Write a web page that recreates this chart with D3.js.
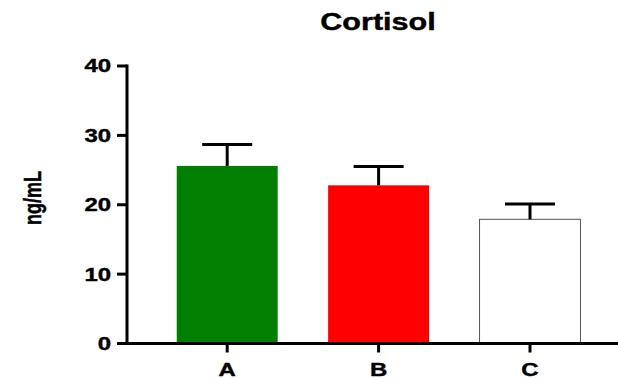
<!DOCTYPE html>
<html>
<head>
<meta charset="utf-8">
<script src="https://cdn.jsdelivr.net/npm/d3@7"></script>
<style>
  body { margin: 0; background: #fff; }
  text { font-family: "Liberation Sans", Arial, sans-serif; font-weight: bold; fill: #000; stroke: #000; stroke-width: 0.4px; }
</style>
</head>
<body>
<div id="chart"></div>
<script>
// Data
const groups = ["A", "B", "C"];
const means = [25.6, 22.8, 17.9];
const errors = [3.1, 2.7, 2.2];
const barColors = ["#007f00", "#ff0000", "#ffffff"];
const yTicks = [0, 10, 20, 30, 40];

const W = 618, H = 378;
const stretch = 1.33; // text in the original is widened

const svg = d3.select("#chart")
    .append("svg")
    .attr("width", W)
    .attr("height", H);

// Scales
const y = d3.scaleLinear().domain([0, 40]).range([343.5, 66]);
const x = d3.scaleBand()
    .domain(groups)
    .range([151.5, 605.7])
    .paddingInner(1/3)
    .paddingOuter(1/6);

const axisX0 = 127;

// Bars
svg.selectAll(".bar")
    .data(groups)
    .enter()
    .append("rect")
    .attr("x", d => x(d))
    .attr("y", (d, i) => y(means[i]))
    .attr("width", x.bandwidth())
    .attr("height", (d, i) => y(0) - y(means[i]))
    .attr("fill", (d, i) => barColors[i])
    .attr("stroke", (d, i) => i === 2 ? "#555" : "none")
    .attr("stroke-width", 1);

// Error bars (upper only)
const err = svg.append("g").attr("stroke", "#000").attr("stroke-width", 3);
groups.forEach((g, i) => {
    const cx = x(g) + x.bandwidth() / 2;
    err.append("line")
        .attr("x1", cx).attr("x2", cx)
        .attr("y1", y(means[i])).attr("y2", y(means[i] + errors[i]));
    err.append("line")
        .attr("x1", cx - 25).attr("x2", cx + 25)
        .attr("y1", y(means[i] + errors[i])).attr("y2", y(means[i] + errors[i]));
});

// Y axis
svg.append("line")
    .attr("x1", axisX0).attr("x2", axisX0)
    .attr("y1", y(40) - 1.5).attr("y2", y(0) + 1.5)
    .attr("stroke", "#000").attr("stroke-width", 3);

yTicks.forEach(t => {
    svg.append("line")
        .attr("x1", axisX0 - 10).attr("x2", axisX0)
        .attr("y1", y(t)).attr("y2", y(t))
        .attr("stroke", "#000").attr("stroke-width", 3);
    svg.append("text")
        .attr("transform", `translate(111,${y(t)}) scale(${stretch},1)`)
        .attr("text-anchor", "end")
        .attr("dy", "0.36em")
        .style("font-size", "18px")
        .text(t);
});

// X axis
svg.append("line")
    .attr("x1", axisX0).attr("x2", W)
    .attr("y1", y(0)).attr("y2", y(0))
    .attr("stroke", "#000").attr("stroke-width", 3);

groups.forEach(g => {
    const cx = x(g) + x.bandwidth() / 2;
    svg.append("line")
        .attr("x1", cx).attr("x2", cx)
        .attr("y1", y(0)).attr("y2", y(0) + 9)
        .attr("stroke", "#000").attr("stroke-width", 3);
    svg.append("text")
        .attr("transform", `translate(${cx},376) scale(${stretch},1)`)
        .attr("text-anchor", "middle")
        .style("font-size", "18px")
        .text(g);
});

// Y label
svg.append("text")
    .attr("transform", `translate(41,198) rotate(-90) scale(1,${stretch})`)
    .attr("text-anchor", "middle")
    .style("font-size", "18px")
    .text("ng/mL");

// Title
svg.append("text")
    .attr("transform", `translate(378,30) scale(${stretch},1)`)
    .attr("text-anchor", "middle")
    .style("font-size", "23px")
    .text("Cortisol");
</script>
</body>
</html>
